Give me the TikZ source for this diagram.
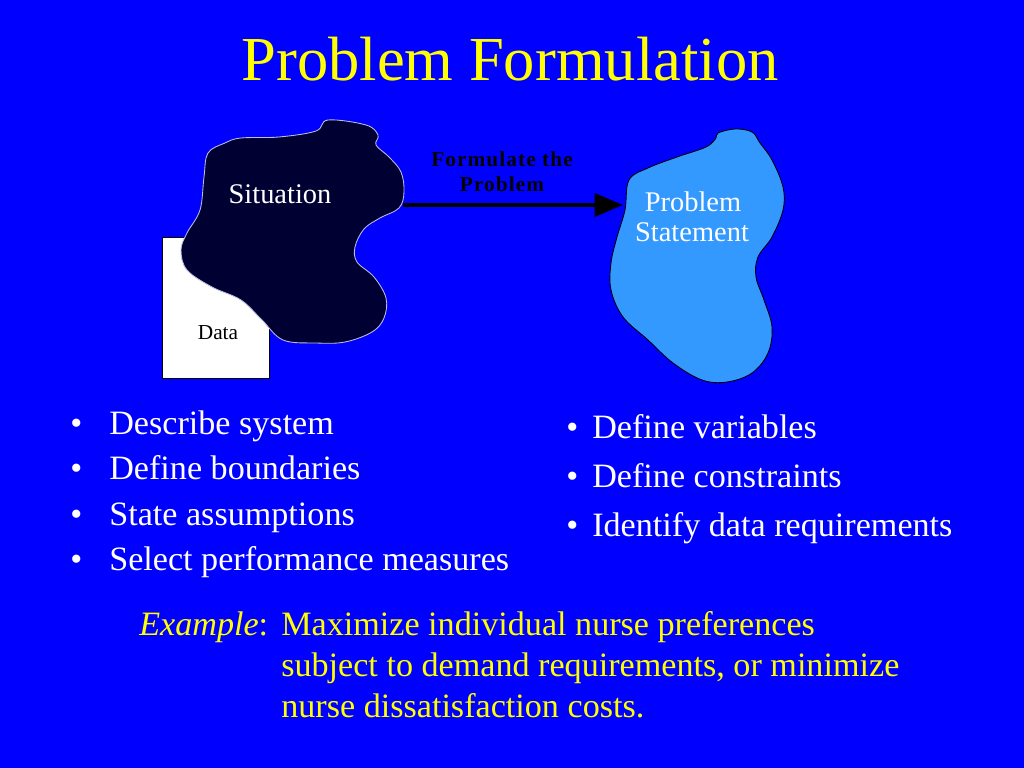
\documentclass[tikz,border=0pt]{standalone}
\usepackage{fontspec}
\setmainfont{Liberation Serif}
\usetikzlibrary{arrows.meta}
\definecolor{slideblue}{RGB}{0,0,255}
\definecolor{slideyellow}{RGB}{255,255,0}
\definecolor{situationfill}{RGB}{0,0,51}
\definecolor{situationline}{RGB}{190,190,230}
\definecolor{statementfill}{RGB}{51,153,255}

\begin{document}
\begin{tikzpicture}[x=0.703125pt,y=-0.703125pt,
  every node/.style={inner sep=0pt,anchor=base},
  heading/.style={text=slideyellow,font=\fontsize{44}{48}\selectfont},
  item/.style={text=white,anchor=base west,font=\fontsize{24}{28}\selectfont},
  example/.style={text=slideyellow,anchor=base west,font=\fontsize{24}{28}\selectfont},
  blobtext/.style={text=white,font=\fontsize{20}{24}\selectfont},
  arrowtext/.style={text=black,font=\fontsize{15}{18}\selectfont\bfseries\addfontfeatures{LetterSpace=5}},
  arrowline/.style={line width=3pt,-{Triangle[length=20pt,width=16pt]}}]
  \fill[slideblue] (0,0) rectangle (1024,768);
  \node[heading] (title) at (510,81) {Problem Formulation};
  \draw[fill=white,draw=black,line width=0.7pt] (162,237) rectangle (269,378);
  \node[text=black,font=\fontsize{15}{18}\selectfont] (data) at (218,339) {Data};
  \draw[fill=situationfill,draw=situationline,line width=0.6pt] plot[smooth cycle,tension=0.6] coordinates {
    (316,131) (328,120) (366,125) (378,135) (376,145) (389,157) (401,172) (404,192)
    (399,208) (380,218) (364,229) (355,247) (357,262) (374,277) (386,298) (384,318)
    (372,332) (345,342) (316,343) (283,340) (262,320) (241,300) (212,287) (187,270)
    (181,250) (187,233) (200,210) (204,177) (208,153) (225,143) (241,138) (279,137)};
  \draw[fill=statementfill,draw=black,line width=0.6pt] plot[smooth cycle,tension=0.6] coordinates {
    (718,133) (735,129) (752,132) (760,143) (772,160) (783,187) (783,210) (772,237)
    (758,257) (756,277) (764,300) (772,327) (768,353) (752,373) (727,382) (702,380)
    (673,363) (648,340) (623,317) (611,290) (611,263) (617,237) (625,210) (629,180)
    (648,168) (677,157) (706,147) (716,138)};
  \node[blobtext] (situation) at (280,204) {Situation};
  \node[blobtext] (stm1) at (693,212) {Problem};
  \node[blobtext] (stm2) at (692,242) {Statement};
  \coordinate (sitEast) at (403,205);
  \coordinate (stmWest) at (623,205);
  \draw[arrowline] (sitEast) -- (stmWest);
  \node[arrowtext] (fp1) at (502,167) {Formulate the};
  \node[arrowtext] (fp2) at (502,192) {Problem};
  \node[item] (dl1) at (70,434) {•};
  \node[item] (dl2) at (70,479) {•};
  \node[item] (dl3) at (70,525) {•};
  \node[item] (dl4) at (70,570) {•};
  \node[item] (l1) at (109,434) {Describe system};
  \node[item] (l2) at (109,479) {Define boundaries};
  \node[item] (l3) at (109,525) {State assumptions};
  \node[item] (l4) at (109,570) {Select performance measures};
  \node[item] (dr1) at (566,438) {•};
  \node[item] (dr2) at (566,487) {•};
  \node[item] (dr3) at (566,536) {•};
  \node[item] (r1) at (592,438) {Define variables};
  \node[item] (r2) at (592,487) {Define constraints};
  \node[item] (r3) at (592,536) {Identify data requirements};
  \node[example] (ex0) at (139,635) {\textit{Example}:};
  \node[example] (ex1) at (281,635) {Maximize individual nurse preferences};
  \node[example] (ex2) at (281,676) {subject to demand requirements, or minimize};
  \node[example] (ex3) at (281,717) {nurse dissatisfaction costs.};
\end{tikzpicture}
\end{document}
